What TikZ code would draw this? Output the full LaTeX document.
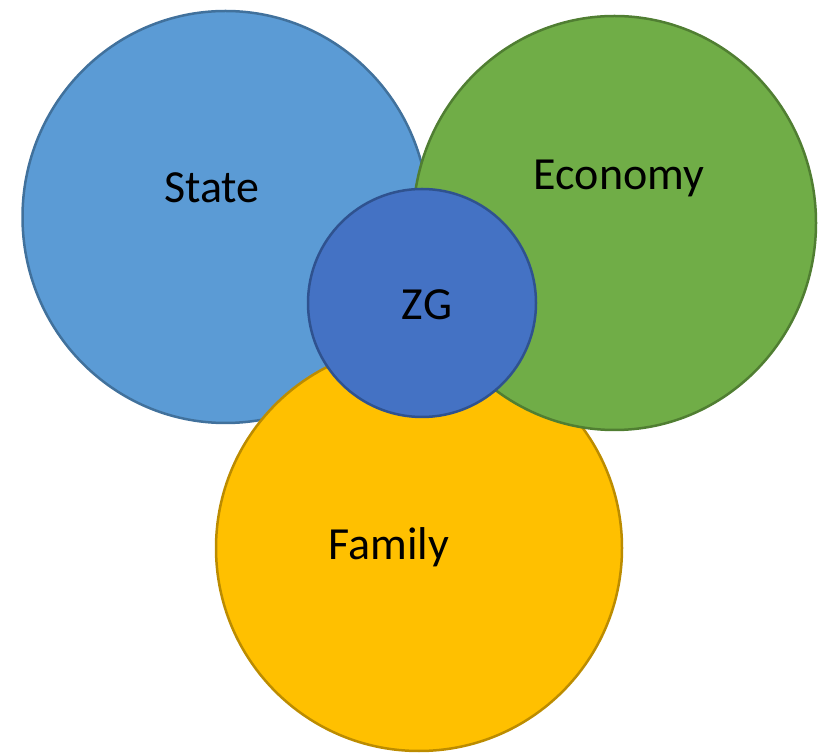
\documentclass[tikz,border=0pt]{standalone}
\usepackage{fontspec}
\usetikzlibrary{shapes.geometric}
\setmainfont{Carlito}
\definecolor{stateFill}{HTML}{5B9BD5}
\definecolor{stateLine}{HTML}{41719C}
\definecolor{econFill}{HTML}{70AD47}
\definecolor{econLine}{HTML}{507E32}
\definecolor{famFill}{HTML}{FFC000}
\definecolor{famLine}{HTML}{BC8C00}
\definecolor{zgFill}{HTML}{4472C4}
\definecolor{zgLine}{HTML}{2F528F}
\tikzset{
  blob/.style={ellipse, inner sep=0pt, line width=2.5pt},
  lbl/.style={anchor=base, inner sep=0pt, font=\fontsize{46}{50}\selectfont, text=black}
}
\begin{document}
\begin{tikzpicture}[x=1pt,y=1pt]
\useasboundingbox (0,0) rectangle (824,755);
\node[blob, fill=stateFill, draw=stateLine, minimum width=406pt, minimum height=412pt] (state) at (225.5,538) {};
\node[blob, fill=famFill, draw=famLine, minimum width=406pt, minimum height=406pt] (family) at (419,207) {};
\node[blob, fill=econFill, draw=econLine, minimum width=403pt, minimum height=414pt] (economy) at (614.5,532) {};
\node[blob, fill=zgFill, draw=zgLine, minimum width=228pt, minimum height=228pt] (zg) at (422,452) {};
\node[lbl] (tstate) at (212,552) {State};
\node[lbl] (tecon) at (619,565) {Economy};
\node[lbl] (tfam) at (389,195) {Family};
\node[lbl] (tzg) at (427,435) {ZG};
\end{tikzpicture}
\end{document}
